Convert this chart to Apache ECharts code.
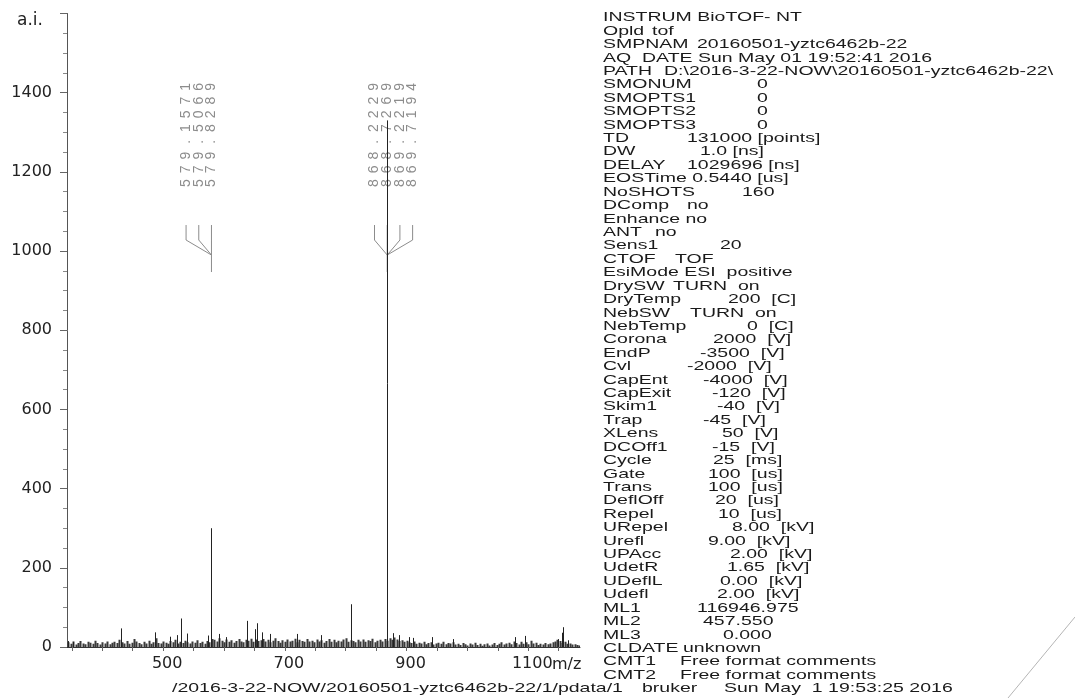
<!DOCTYPE html>
<html>
<head>
<meta charset="utf-8">
<script src="https://cdn.jsdelivr.net/npm/echarts@6/dist/echarts.min.js"></script>
<style>
  html, body { margin: 0; padding: 0; background: #fff; }
  #chart { width: 1075px; height: 698px; }
</style>
</head>
<body>
<div id="chart"></div>
<script>
// peaks: m/z and intensity (a.i.)
const peakMz  = [343, 352, 430, 486, 511, 522, 530, 539, 574, 579.4, 592, 604, 637, 651, 655, 662, 675, 720, 759, 808, 868.2, 877, 888, 904, 911, 941, 977, 1078, 1094, 1149, 1155, 1157, 1165];
const peakInt = [15, 13, 47, 37, 26, 30, 72, 34, 29, 300, 33, 25, 66, 45, 60, 37, 33, 33, 30, 108, 1330, 35, 30, 25, 23, 25, 20, 25, 28, 20, 36, 50, 17];

// baseline noise, one reading every 4 m/z starting at 344
const noiseStartMz = 344;
const noiseStepMz = 4;
const noiseInt = [
  12, 8, 14, 6, 10, 15, 9, 7, 13, 11, 8, 16, 10, 6, 12, 9, 14, 7, 11, 13,
  10, 18, 12, 9, 15, 8, 11, 20, 14, 10, 7, 13, 9, 16, 8, 12, 22, 10, 9, 14,
  11, 8, 15, 12, 18, 9, 13, 10, 16, 12, 9, 14, 11, 17, 10, 13, 8, 15, 12, 20,
  18, 14, 22, 16, 12, 19, 13, 17, 11, 15, 20, 14, 12, 18, 16, 21, 13, 19, 15, 17,
  20, 14, 18, 12, 16, 22, 15, 11, 17, 13, 19, 14, 16, 21, 12, 18, 15, 13, 20, 14,
  16, 12, 19, 14, 17, 11, 15, 20, 13, 18, 12, 16, 14, 19, 22, 13, 17, 15, 12, 18,
  14, 19, 13, 17, 15, 21, 12, 16, 18, 14, 20, 16, 22, 18, 24, 19, 15, 17, 13, 16,
  12, 10, 14, 8, 11, 9, 13, 7, 10, 12, 6, 9, 11, 8, 13, 7, 10, 9, 12, 6,
  8, 5, 10, 7, 4, 9, 6, 11, 5, 8, 3, 7, 9, 4, 6, 10, 5, 8, 12, 6,
  9, 11, 7, 14, 10, 6, 13, 8, 12, 7, 16, 9, 11, 5, 8, 6, 10, 7, 9, 12,
  14, 18, 15, 10, 13, 8, 9, 6, 7, 5, 4
];

// peak labels printed by the instrument
const annPeakMz = [579.4, 868.2];
const annLevel  = [990, 990];
const annLabels = [
  ['579.1571', '579.5066', '579.8289'],
  ['868.2229', '868.7269', '869.2219', '869.7194']
];

const xTickValues  = [350, 400, 450, 500, 550, 600, 650, 700, 750, 800, 850, 900, 950, 1000, 1050, 1100, 1150];
const xLabelValues = [500, 700, 900, 1100];

// acquisition parameters block
const infoNames = ['INSTRUM BioTOF- NT', 'Opld', 'SMPNAM', 'AQ  DATE Sun May 01 19:52:41 2016', 'PATH',
  'SMONUM', 'SMOPTS1', 'SMOPTS2', 'SMOPTS3', 'TD', 'DW', 'DELAY', 'EOSTime 0.5440 [us]', 'NoSHOTS',
  'DComp', 'Enhance no', 'ANT', 'Sens1', 'CTOF', 'EsiMode ESI  positive', 'DrySW', 'DryTemp', 'NebSW',
  'NebTemp', 'Corona', 'EndP', 'Cvl', 'CapEnt', 'CapExit', 'Skim1', 'Trap', 'XLens', 'DCOff1', 'Cycle',
  'Gate', 'Trans', 'DeflOff', 'Repel', 'URepel', 'Urefl', 'UPAcc', 'UdetR', 'UDeflL', 'Udefl', 'ML1',
  'ML2', 'ML3', 'CLDATE', 'CMT1', 'CMT2'];
const infoValues = ['', 'tof', '20160501-yztc6462b-22', '', 'D:\\2016-3-22-NOW\\20160501-yztc6462b-22\\',
  '0', '0', '0', '0', '131000 [points]', '1.0 [ns]', '1029696 [ns]', '', '160',
  'no', '', 'no', '20', 'TOF', '', 'TURN  on', '200  [C]', 'TURN  on',
  '0  [C]', '2000  [V]', '-3500  [V]', '-2000  [V]', '-4000  [V]', '-120  [V]', '-40  [V]', '-45  [V]', '50  [V]', '-15  [V]', '25  [ms]',
  '100  [us]', '100  [us]', '20  [us]', '10  [us]', '8.00  [kV]', '9.00  [kV]', '2.00  [kV]', '1.65  [kV]', '0.00  [kV]', '2.00  [kV]', '116946.975',
  '457.550', '0.000', 'unknown', 'Free format comments', 'Free format comments'];
const footerParts = ['/2016-3-22-NOW/20160501-yztc6462b-22/1/pdata/1', 'bruker', 'Sun May  1 19:53:25 2016'];

// ---- layout / style ----
const infoValueX = [0, 652, 697, 0, 664, 757, 757, 757, 757, 687, 700, 687, 0, 742,
  687, 0, 655, 720, 675, 0, 673, 728, 690, 747, 713, 700, 687, 703, 712, 717, 703, 722, 712, 713,
  708, 708, 715, 718, 732, 708, 730, 727, 720, 717, 697, 703, 723, 683, 680, 680];
const footerX = [172, 642, 724];
const textFont = '19.5px "Liberation Sans", Arial, sans-serif';
const squash = 0.7;
const annFirstSlot = [-2, -1];
const slotW = 12.7, charPitch = 13.75, annColor = '#8c8c8c';

const stickData = (xs, ys) => xs.map((x, i) => [x, ys[i]]);
const noiseData = noiseInt.map((v, i) => [noiseStartMz + i * noiseStepMz, v]);

function stick(color, w) {
  return function (params, api) {
    const b = api.coord([api.value(0), 0]);
    const t = api.coord([api.value(0), api.value(1)]);
    const x = Math.round(b[0]) + 0.5;
    return { type: 'line', shape: { x1: x, y1: b[1], x2: x, y2: t[1] },
      style: { stroke: color, lineWidth: w } };
  };
}

function renderAnn(params, api) {
  const i = params.dataIndex;
  const p = api.coord([api.value(0), api.value(1)]);
  const kids = [];
  annLabels[i].forEach((txt, k) => {
    const cx = p[0] + (annFirstSlot[i] + k) * slotW;
    kids.push({ type: 'polyline',
      shape: { points: [[cx, p[1] - 30], [cx, p[1] - 15], [p[0], p[1]]] },
      style: { stroke: annColor, fill: null, lineWidth: 1 } });
    for (let c = 0; c < txt.length; c++) {
      kids.push({ type: 'text', x: cx, y: p[1] - 65 - (c + 0.5) * charPitch, rotation: Math.PI / 2,
        style: { text: txt[c], align: 'center', verticalAlign: 'middle', fill: annColor,
          font: '14px "Liberation Sans", Arial, sans-serif' } });
    }
  });
  kids.push({ type: 'line', shape: { x1: p[0], y1: p[1], x2: p[0], y2: p[1] + 17 },
    style: { stroke: annColor, lineWidth: 1 } });
  return { type: 'group', children: kids };
}

const graphics = [];
infoNames.forEach((n, i) => {
  const y = 17.5 + i * 13.42;
  graphics.push({ type: 'text', x: 603, y: y, scaleY: squash, silent: true,
    style: { text: n, font: textFont, fill: '#1a1a1a', verticalAlign: 'middle' } });
  if (infoValues[i]) {
    graphics.push({ type: 'text', x: infoValueX[i], y: y, scaleY: squash, silent: true,
      style: { text: infoValues[i], font: textFont, fill: '#1a1a1a', verticalAlign: 'middle' } });
  }
});
footerParts.forEach((t, i) => {
  graphics.push({ type: 'text', x: footerX[i], y: 688, scaleY: squash, silent: true,
    style: { text: t, font: textFont, fill: '#1a1a1a', verticalAlign: 'middle',
      backgroundColor: '#fff', padding: [2, 0, 0, 0] } });
});
// scanner crease bottom right
graphics.push({ type: 'line', silent: true, shape: { x1: 1008, y1: 698, x2: 1075, y2: 617 },
  style: { stroke: '#b5b5b5', lineWidth: 1 } });

const axisFont = 'DejaVu Sans';
const option = {
  animation: false,
  backgroundColor: '#fff',
  grid: { left: 67, right: 495, top: 13.5, bottom: 51 },
  xAxis: {
    type: 'value', min: 342, max: 1185,
    name: 'm/z', nameLocation: 'end', nameGap: -28, nameMoveOverlap: false,
    nameTextStyle: { fontFamily: axisFont, fontSize: 16, color: '#222', align: 'left',
      verticalAlign: 'top', padding: [10, 0, 0, 0] },
    axisLine: { show: true, lineStyle: { color: '#333', width: 1 } },
    axisTick: { show: true, customValues: xTickValues, length: 4, lineStyle: { color: '#666' } },
    axisLabel: { customValues: xLabelValues, margin: 9, fontFamily: axisFont, fontSize: 16,
      color: '#222', padding: [0, 0, 0, 8], formatter: v => String(v) },
    splitLine: { show: false }
  },
  yAxis: {
    type: 'value', min: 0, max: 1600, interval: 200,
    name: 'a.i.', nameLocation: 'end', nameGap: -7,
    nameTextStyle: { fontFamily: axisFont, fontSize: 17, color: '#222', align: 'right',
      verticalAlign: 'middle', padding: [0, 24, 0, 0] },
    axisLine: { show: true, lineStyle: { color: '#555', width: 1 } },
    axisTick: { show: true, length: 7, lineStyle: { color: '#666' } },
    minorTick: { show: true, splitNumber: 4, length: 4, lineStyle: { color: '#888' } },
    axisLabel: { margin: 15, fontFamily: axisFont, fontSize: 16, color: '#222',
      formatter: v => (v >= 1600 ? '' : String(v)) },
    splitLine: { show: false }
  },
  series: [
    { type: 'custom', name: 'noise', renderItem: stick('#3a3a3a', 2), data: noiseData,
      encode: { x: 0, y: 1 }, silent: true, clip: true },
    { type: 'custom', name: 'peaks', renderItem: stick('#222', 1), data: stickData(peakMz, peakInt),
      encode: { x: 0, y: 1 }, silent: true, clip: true, z: 3 },
    { type: 'custom', name: 'labels', renderItem: renderAnn,
      data: annPeakMz.map((m, i) => [m, annLevel[i]]),
      encode: { x: 0, y: 1 }, silent: true, clip: false, z: 1 }
  ],
  graphic: graphics
};

const chart = echarts.init(document.getElementById('chart'), null, { renderer: 'canvas' });
chart.setOption(option);
</script>
</body>
</html>
